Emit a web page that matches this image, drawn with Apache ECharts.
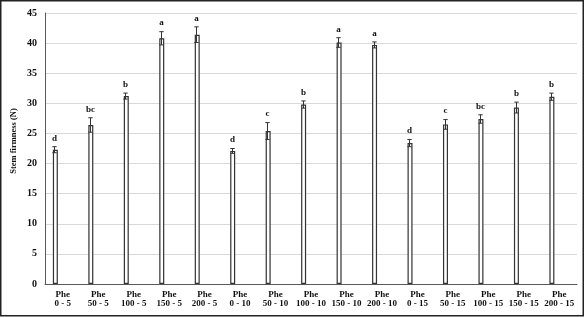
<!DOCTYPE html>
<html>
<head>
<meta charset="utf-8">
<script src="https://cdn.jsdelivr.net/npm/echarts@6/dist/echarts.min.js"></script>
<style>
html,body{margin:0;padding:0;background:#fff;}
#c{width:588px;height:318px;}
</style>
</head>
<body>
<div id="c"></div>
<script>
const categories = ['Phe\n0 - 5','Phe\n50 - 5','Phe\n100 - 5','Phe\n150 - 5','Phe\n200 - 5',
  'Phe\n0 - 10','Phe\n50 - 10','Phe\n100 - 10','Phe\n150 - 10','Phe\n200 - 10',
  'Phe\n0 - 15','Phe\n50 - 15','Phe\n100 - 15','Phe\n150 - 15','Phe\n200 - 15'];
const firmness = [22.3, 26.4, 31.2, 40.8, 41.4, 22.1, 25.4, 29.8, 40.1, 39.7, 23.4, 26.5, 27.4, 29.3, 31.1];
const errors   = [0.5, 1.2, 0.5, 1.1, 1.3, 0.4, 1.4, 0.6, 0.8, 0.5, 0.6, 0.8, 0.7, 0.9, 0.6];
const letters  = ['d','bc','b','a','a','d','c','b','a','a','d','c','bc','b','b'];
const yTicks = {min: 0, max: 45, interval: 5};

const FONT = 'Liberation Serif';
const BAR_OFFSET = -8.3;
const chart = echarts.init(document.getElementById('c'), null, {renderer: 'canvas'});

const errData = firmness.map((v, i) => [i, v, errors[i]]);

chart.setOption({
  animation: false,
  backgroundColor: '#fff',
  grid: {left: 45, right: 11, top: 13, bottom: 34, containLabel: false},
  xAxis: {
    type: 'category',
    data: categories,
    axisLine: {lineStyle: {color: '#595959', width: 1}},
    axisTick: {show: false},
    axisLabel: {interval: 0, margin: 6, fontFamily: FONT, fontWeight: 'bold', fontSize: 9, lineHeight: 9, color: '#111'}
  },
  yAxis: {
    type: 'value',
    min: yTicks.min, max: yTicks.max, interval: yTicks.interval,
    axisLine: {show: true, lineStyle: {color: '#595959', width: 1}},
    axisTick: {show: false},
    splitLine: {lineStyle: {color: '#d9d9d9', width: 1}},
    axisLabel: {margin: 8, fontFamily: FONT, fontWeight: 'bold', fontSize: 10, color: '#111'}
  },
  graphic: [
    {type: 'rect', shape: {x: 0.75, y: 0.75, width: 582.5, height: 315}, style: {fill: 'none', stroke: '#222', lineWidth: 1.5}, z: 100},
    {type: 'text', x: 14, y: 141, rotation: Math.PI / 2, style: {text: 'Stem firmness (N)', font: 'bold 8.5px "Liberation Serif"', fill: '#111', align: 'center', verticalAlign: 'middle'}}
  ],
  series: [
    {
      type: 'bar', data: firmness, barWidth: 5, barGap: '195%',
      itemStyle: {color: '#fff', borderColor: '#333', borderWidth: 1.2}
    },
    {type: 'bar', data: firmness.map(() => null), barWidth: 5},
    {
      type: 'custom', z: 5,
      data: errData,
      renderItem: function (params, api) {
        const i = api.value(0), v = api.value(1), e = api.value(2);
        const top = api.coord([i, v + e]);
        const bot = api.coord([i, v - e]);
        const x = Math.round(top[0] + BAR_OFFSET) + 0.5;
        const cap = 2.2;
        const ls = {stroke: '#333', lineWidth: 1};
        return {
          type: 'group',
          children: [
            {type: 'line', shape: {x1: x, y1: top[1], x2: x, y2: bot[1]}, style: ls},
            {type: 'line', shape: {x1: x - cap, y1: top[1], x2: x + cap, y2: top[1]}, style: ls},
            {type: 'line', shape: {x1: x - cap, y1: bot[1], x2: x + cap, y2: bot[1]}, style: ls},
            {type: 'text', x: x, y: top[1] - 8.5, style: {text: letters[params.dataIndex], font: 'bold 9px "Liberation Serif"', fill: '#111', align: 'center', verticalAlign: 'middle'}}
          ]
        };
      }
    }
  ]
});
</script>
</body>
</html>
